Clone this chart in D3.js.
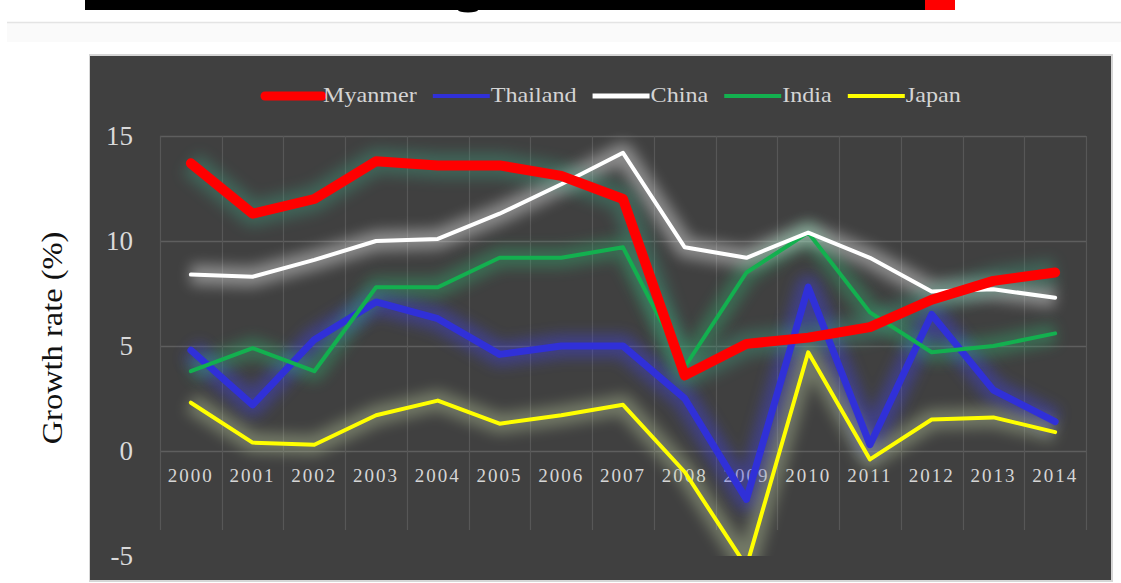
<!DOCTYPE html>
<html>
<head>
<meta charset="utf-8">
<script src="https://cdn.jsdelivr.net/npm/d3@7"></script>
<style>
  body { margin: 0; background: #fff; }
  svg { display: block; }
</style>
</head>
<body>
<div id="viz"></div>
<script>
// Data
const years = [2000, 2001, 2002, 2003, 2004, 2005, 2006, 2007, 2008, 2009, 2010, 2011, 2012, 2013, 2014];
const myanmar  = [13.7, 11.3, 12.0, 13.8, 13.6, 13.6, 13.1, 12.0, 3.6, 5.1, 5.4, 5.9, 7.2, 8.1, 8.5];
const thailand = [4.8, 2.2, 5.3, 7.1, 6.3, 4.6, 5.0, 5.0, 2.5, -2.3, 7.8, 0.3, 6.5, 2.9, 1.4];
const china    = [8.4, 8.3, 9.1, 10.0, 10.1, 11.3, 12.7, 14.2, 9.7, 9.2, 10.4, 9.2, 7.6, 7.7, 7.3];
const india    = [3.8, 4.9, 3.8, 7.8, 7.8, 9.2, 9.2, 9.7, 4.0, 8.5, 10.4, 6.6, 4.7, 5.0, 5.6];
const japan    = [2.3, 0.4, 0.3, 1.7, 2.4, 1.3, 1.7, 2.2, -1.0, -5.5, 4.7, -0.4, 1.5, 1.6, 0.9];
const seriesNames = ["Myanmer", "Thailand", "China", "India", "Japan"];
const yTicks = [-5, 0, 5, 10, 15];

const width = 1121;
const height = 583;
const serif = "'Liberation Serif', 'DejaVu Serif', 'Times New Roman', serif";

const series = [
    { name: seriesNames[0], values: myanmar,  color: "#ff0000", glow: "#3f9a7c", w: 10, lw: 9 },
    { name: seriesNames[1], values: thailand, color: "#3030d8", glow: "#4040f0", w: 7,  lw: 4 },
    { name: seriesNames[2], values: china,    color: "#ffffff", glow: "#ffffff", w: 4,  lw: 5 },
    { name: seriesNames[3], values: india,    color: "#13b04f", glow: "#30b070", w: 4,  lw: 4 },
    { name: seriesNames[4], values: japan,    color: "#ffff00", glow: "#c0d0a0", w: 4,  lw: 4 }
];

const svg = d3.select("#viz")
    .append("svg")
    .attr("width", width)
    .attr("height", height);

const defs = svg.append("defs");
defs.append("filter")
    .attr("id", "blur")
    .attr("x", "-20%").attr("y", "-20%")
    .attr("width", "140%").attr("height", "140%")
    .append("feGaussianBlur")
    .attr("stdDeviation", 7);

defs.append("clipPath")
    .attr("id", "plotClip")
    .append("rect")
    .attr("x", 140).attr("y", 100)
    .attr("width", 970).attr("height", 456);

// page decorations above the chart
svg.append("rect").attr("x", 85).attr("y", 0).attr("width", 840).attr("height", 10).attr("fill", "#000");
svg.append("rect").attr("x", 925).attr("y", 0).attr("width", 30).attr("height", 10).attr("fill", "#ff0000");
svg.append("ellipse").attr("cx", 468).attr("cy", 10).attr("rx", 10).attr("ry", 2.5).attr("fill", "#000");
svg.append("rect").attr("x", 7).attr("y", 22).attr("width", 1114).attr("height", 20).attr("fill", "#fafafa");
svg.append("line").attr("x1", 7).attr("x2", 1121).attr("y1", 22.5).attr("y2", 22.5)
    .attr("stroke", "#e4e4e4").attr("stroke-width", 1.5);

// chart panel
svg.append("rect")
    .attr("x", 89).attr("y", 54)
    .attr("width", 1024).attr("height", 528)
    .attr("fill", "#d6d6d6");
svg.append("rect")
    .attr("x", 90).attr("y", 56)
    .attr("width", 1021).attr("height", 524)
    .attr("fill", "#404040");

// axis title
svg.append("text")
    .attr("transform", "translate(62,338) rotate(-90) scale(1.12,1)")
    .attr("text-anchor", "middle")
    .attr("font-family", serif)
    .attr("font-size", 29)
    .attr("fill", "#111")
    .text("Growth rate (%)");

// scales
const x = d3.scaleBand()
    .domain(years)
    .range([160, 1086]);

const y = d3.scaleLinear()
    .domain([-5, 15])
    .range([556, 136]);

const cx = d => x(d) + x.bandwidth() / 2;

// gridlines
const grid = svg.append("g");
grid.selectAll(".hgrid")
    .data(yTicks.filter(t => t >= 0))
    .enter().append("line")
    .attr("x1", 160).attr("x2", 1086)
    .attr("y1", d => Math.round(y(d)) + 0.5)
    .attr("y2", d => Math.round(y(d)) + 0.5)
    .attr("stroke", "#5e5e5e")
    .attr("stroke-width", 1.5);

grid.selectAll(".vgrid")
    .data(years.concat(["end"]))
    .enter().append("line")
    .attr("x1", d => Math.round(d === "end" ? 1086 : x(d)) + 0.5)
    .attr("x2", d => Math.round(d === "end" ? 1086 : x(d)) + 0.5)
    .attr("y1", 136)
    .attr("y2", 530)
    .attr("stroke", "#575757")
    .attr("stroke-width", 1.2);

// y tick labels
svg.append("g")
    .selectAll("text")
    .data(yTicks)
    .enter().append("text")
    .attr("x", 133)
    .attr("y", d => y(d) + 9)
    .attr("text-anchor", "end")
    .attr("font-family", serif)
    .attr("font-size", 27)
    .attr("fill", "#dadada")
    .text(d => d);

// x tick labels
svg.append("g")
    .selectAll("text")
    .data(years)
    .enter().append("text")
    .attr("x", d => cx(d))
    .attr("y", 482)
    .attr("text-anchor", "middle")
    .attr("font-family", serif)
    .attr("font-size", 19)
    .attr("letter-spacing", 2)
    .attr("fill", "#d6d6d6")
    .text(d => d);

// lines
const line = d3.line()
    .x((d, i) => cx(years[i]))
    .y(d => y(d))
    .curve(d3.curveLinear);

const plot = svg.append("g").attr("clip-path", "url(#plotClip)");
const drawOrder = [1, 3, 2, 4, 0];

drawOrder.forEach(k => {
    const s = series[k];
    plot.append("path")
        .datum(s.values)
        .attr("d", line)
        .attr("fill", "none")
        .attr("stroke", s.glow)
        .attr("stroke-width", s.w + 16)
        .attr("stroke-linejoin", "round")
        .attr("opacity", 0.4)
        .attr("filter", "url(#blur)");
});

drawOrder.forEach(k => {
    const s = series[k];
    plot.append("path")
        .datum(s.values)
        .attr("d", line)
        .attr("fill", "none")
        .attr("stroke", s.color)
        .attr("stroke-width", s.w)
        .attr("stroke-linejoin", "round")
        .attr("stroke-linecap", "round");
});

// legend
const legend = svg.append("g");
let lx = 265;
series.forEach(s => {
    legend.append("line")
        .attr("x1", lx).attr("x2", lx + 57)
        .attr("y1", 96).attr("y2", 96)
        .attr("stroke", s.color)
        .attr("stroke-width", s.lw)
        .attr("stroke-linecap", s.name === "Myanmer" ? "round" : "butt");
    const t = legend.append("text")
        .attr("x", lx + 58)
        .attr("y", 102)
        .attr("font-family", serif)
        .attr("font-size", 21)
        .attr("fill", "#d4d4d4")
        .attr("transform", `translate(${lx + 58},0) scale(1.15,1) translate(${-(lx + 58)},0)`)
        .text(s.name);
    lx += 58 + t.node().getComputedTextLength() * 1.15 + 16;
});
</script>
</body>
</html>
